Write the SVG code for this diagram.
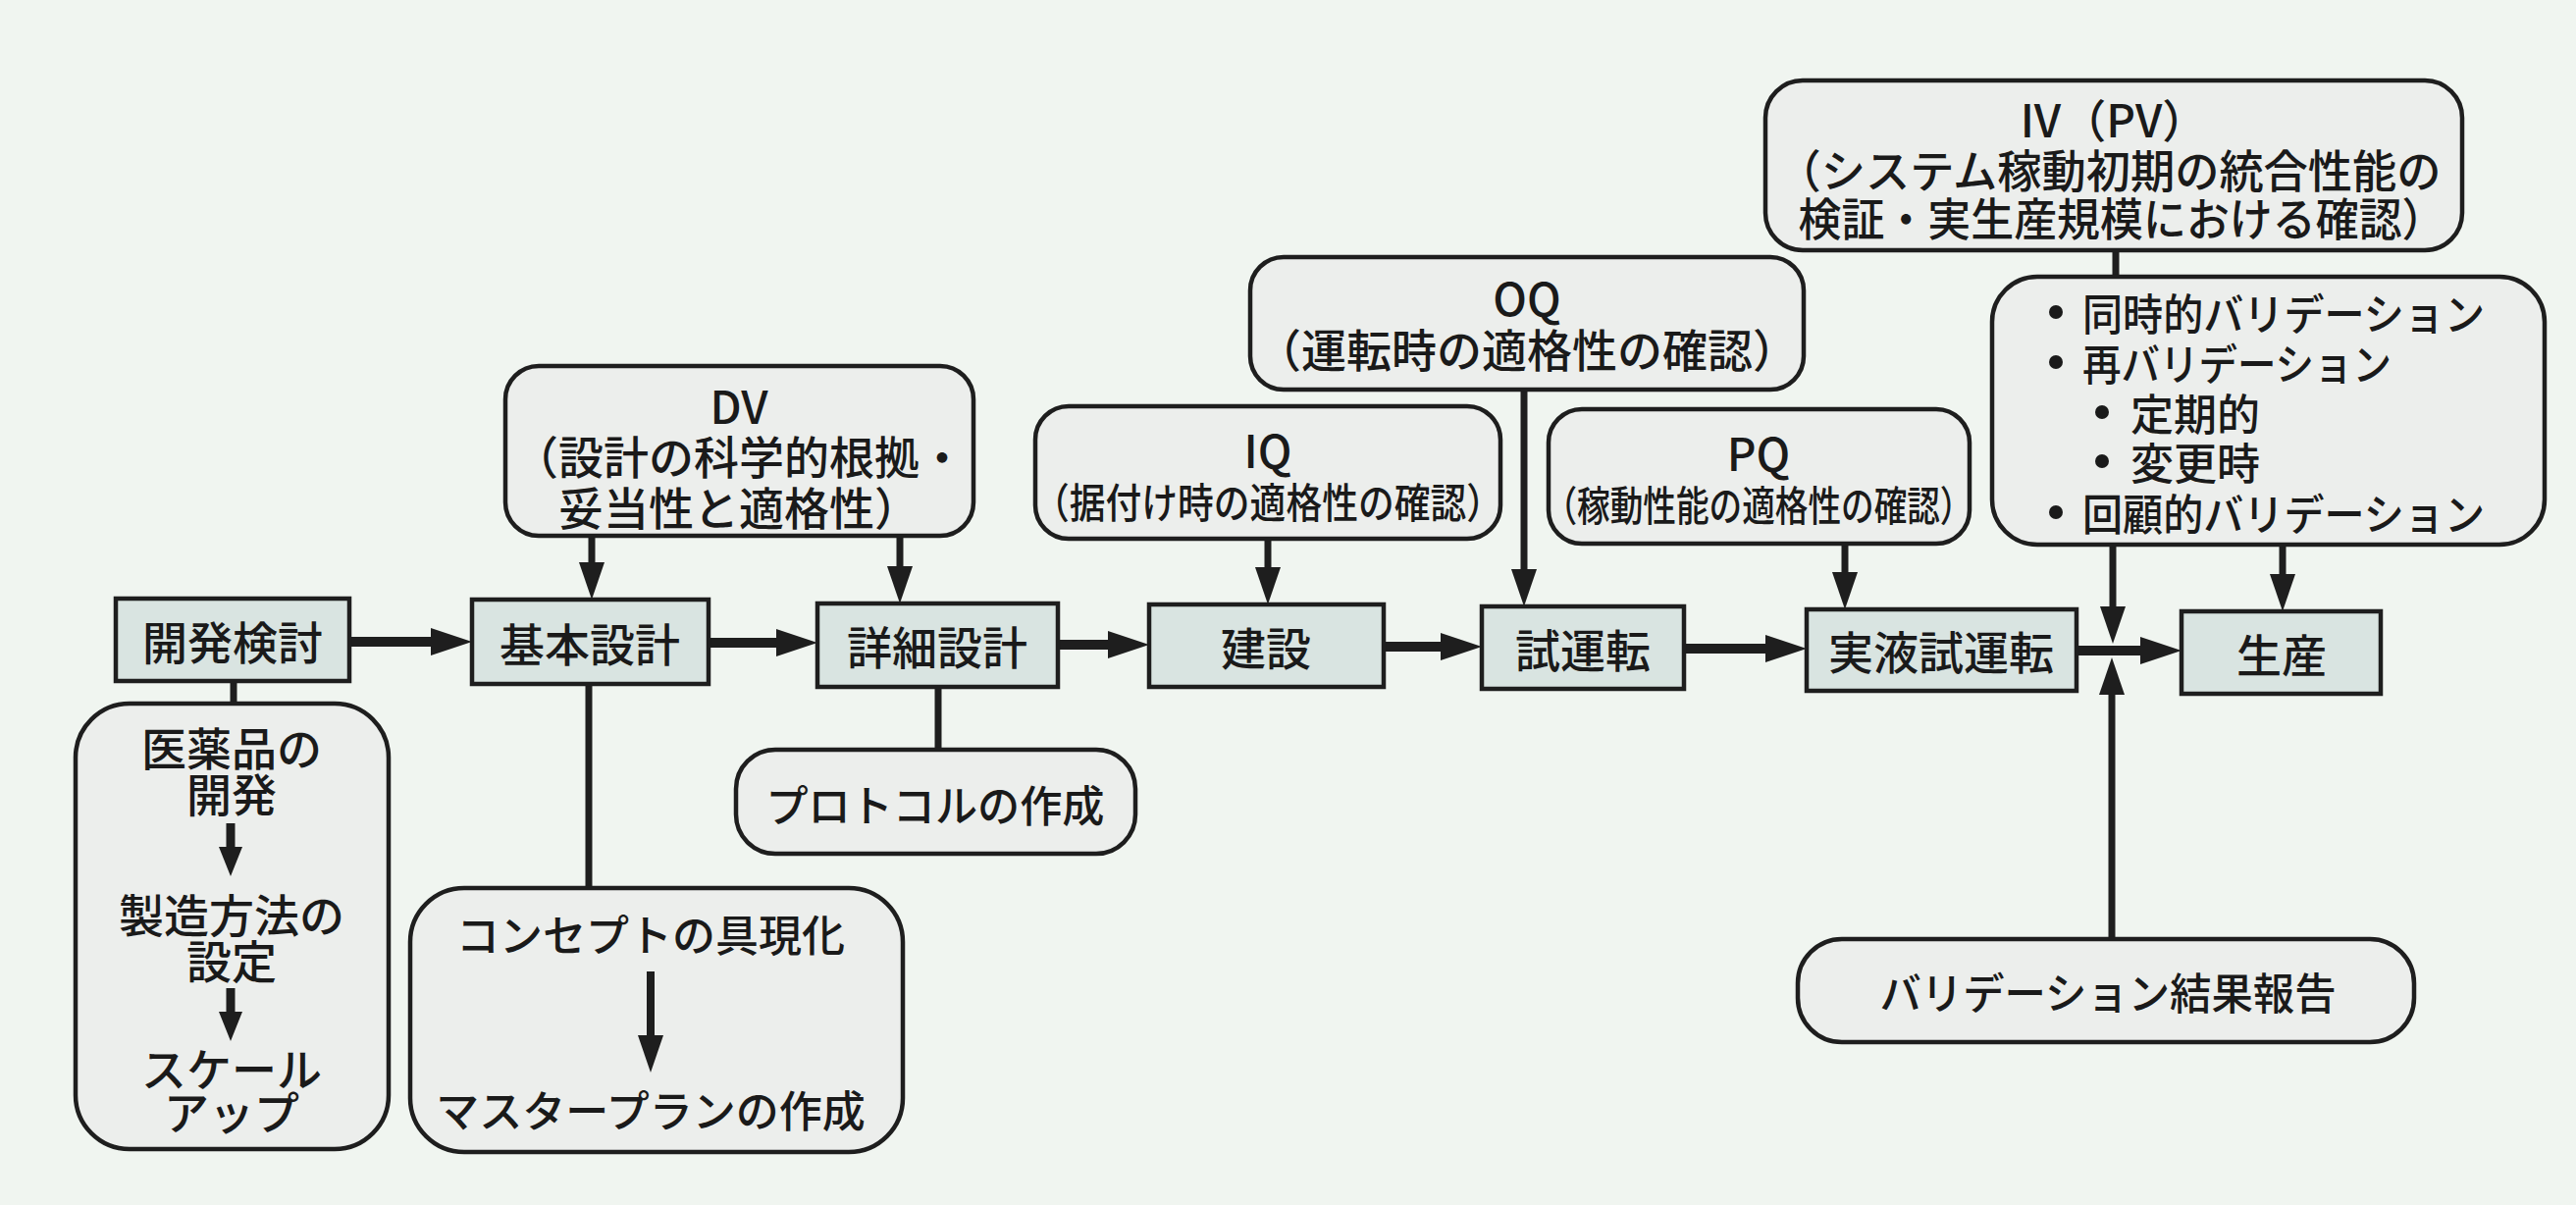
<svg xmlns="http://www.w3.org/2000/svg" width="2625" height="1228" viewBox="0 0 2625 1228">
<style>
.bg{fill:#f0f5f0}
.sq{fill:#d9e4e1;stroke:#1e1e1e;stroke-width:4.5}
.rd{fill:#eceeec;stroke:#1e1e1e;stroke-width:4.5}
.t{font-family:"Noto Sans CJK JP","Noto Sans",sans-serif;font-weight:500;fill:#1a1a1a;text-anchor:middle;dominant-baseline:central}
.tl{font-family:"Noto Sans CJK JP","Noto Sans",sans-serif;font-weight:500;fill:#1a1a1a;text-anchor:start;dominant-baseline:central}
.f46{font-size:46px}
.f44{font-size:44px}
.f42{font-size:42px}
.h{stroke:#1e1e1e;stroke-width:10;fill:none}
.v{stroke:#1e1e1e;stroke-width:7;fill:none}
.vs{stroke:#1e1e1e;stroke-width:9;fill:none}
.vc{stroke:#1e1e1e;stroke-width:8;fill:none}
.dot{fill:#1a1a1a}
</style>
<defs>
<marker id="ah" viewBox="0 0 42 28" markerWidth="42" markerHeight="28" refX="1" refY="14" orient="auto" markerUnits="userSpaceOnUse"><path d="M0,0 L42,14 L0,28 z" fill="#1e1e1e"/></marker>
<marker id="av" viewBox="0 0 38 26" markerWidth="38" markerHeight="26" refX="1" refY="13" orient="auto" markerUnits="userSpaceOnUse"><path d="M0,0 L38,13 L0,26 z" fill="#1e1e1e"/></marker>
<marker id="as" viewBox="0 0 30 24" markerWidth="30" markerHeight="24" refX="1" refY="12" orient="auto" markerUnits="userSpaceOnUse"><path d="M0,0 L30,12 L0,24 z" fill="#1e1e1e"/></marker>
</defs>
<rect class="bg" x="0" y="0" width="2625" height="1228"/>

<g id="connectors">
<line class="h" x1="356" y1="654" x2="440" y2="654" marker-end="url(#ah)"/>
<line class="h" x1="722" y1="655" x2="792" y2="655" marker-end="url(#ah)"/>
<line class="h" x1="1078" y1="657" x2="1130" y2="657" marker-end="url(#ah)"/>
<line class="h" x1="1410" y1="659" x2="1469" y2="659" marker-end="url(#ah)"/>
<line class="h" x1="1716" y1="661" x2="1800" y2="661" marker-end="url(#ah)"/>
<line class="h" x1="2116" y1="663" x2="2182" y2="663" marker-end="url(#ah)"/>
<line class="v" x1="603" y1="546" x2="603" y2="574" marker-end="url(#av)"/>
<line class="v" x1="917" y1="546" x2="917" y2="578" marker-end="url(#av)"/>
<line class="v" x1="1292" y1="549" x2="1292" y2="579" marker-end="url(#av)"/>
<line class="v" x1="1553" y1="397" x2="1553" y2="581" marker-end="url(#av)"/>
<line class="v" x1="1880" y1="554" x2="1880" y2="584" marker-end="url(#av)"/>
<line class="v" x1="2326" y1="555" x2="2326" y2="586" marker-end="url(#av)"/>
<line class="v" x1="2153" y1="555" x2="2153" y2="619" marker-end="url(#av)"/>
<line class="v" x1="2152" y1="957" x2="2152" y2="707" marker-end="url(#av)"/>
<line class="v" x1="238" y1="694" x2="238" y2="717"/>
<line class="v" x1="600" y1="697" x2="600" y2="905"/>
<line class="v" x1="956" y1="700" x2="956" y2="764"/>
<line class="v" x1="2156" y1="255" x2="2156" y2="282"/>
</g>

<g id="n_kaihatsu"><rect class="sq" x="118" y="610" width="238" height="84"/><text class="t f46" x="237" y="652">開発検討</text></g>
<g id="n_kihon"><rect class="sq" x="481" y="611" width="241" height="86"/><text class="t f46" x="601" y="654">基本設計</text></g>
<g id="n_shosai"><rect class="sq" x="833" y="615" width="245" height="85"/><text class="t f46" x="955" y="657">詳細設計</text></g>
<g id="n_kensetsu"><rect class="sq" x="1171" y="616" width="239" height="84"/><text class="t f46" x="1290" y="658">建設</text></g>
<g id="n_shiunten"><rect class="sq" x="1510" y="618" width="206" height="84"/><text class="t f46" x="1613" y="660">試運転</text></g>
<g id="n_jitsueki"><rect class="sq" x="1841" y="621" width="275" height="83"/><text class="t f46" x="1978" y="662">実液試運転</text></g>
<g id="n_seisan"><rect class="sq" x="2223" y="623" width="203" height="84"/><text class="t f46" x="2325" y="665">生産</text></g>

<g id="n_dv"><rect class="rd" x="515" y="373" width="477" height="173" rx="34"/>
<text class="t f46" x="753" y="412">DV<tspan x="753" y="463">（設計の科学的根拠・</tspan><tspan x="753" y="515">妥当性と適格性）</tspan></text></g>

<g id="n_iq"><rect class="rd" x="1055" y="414" width="474" height="135" rx="34"/>
<text class="t f46" x="1292" y="457">IQ<tspan class="f42" x="1292" y="509" textLength="478" lengthAdjust="spacingAndGlyphs">（据付け時の適格性の確認）</tspan></text></g>

<g id="n_oq"><rect class="rd" x="1274" y="262" width="564" height="135" rx="34"/>
<text class="t f46" x="1556" y="302">OQ<tspan x="1556" y="354">（運転時の適格性の確認）</tspan></text></g>

<g id="n_pq"><rect class="rd" x="1578" y="417" width="429" height="137" rx="34"/>
<text class="t f46" x="1792" y="460">PQ<tspan class="f42" x="1792" y="512" textLength="437" lengthAdjust="spacingAndGlyphs">（稼動性能の適格性の確認）</tspan></text></g>

<g id="n_iv"><rect class="rd" x="1799" y="82" width="710" height="173" rx="38"/>
<text class="t f46" x="2154" y="120">IV（PV）<tspan x="2149" y="171" textLength="677" lengthAdjust="spacingAndGlyphs">（システム稼動初期の統合性能の</tspan><tspan x="2162" y="220" textLength="659" lengthAdjust="spacingAndGlyphs">検証・実生産規模における確認）</tspan></text></g>

<g id="n_types"><rect class="rd" x="2030" y="282" width="563" height="273" rx="46"/>
<circle class="dot" cx="2095" cy="318" r="7"/>
<circle class="dot" cx="2095" cy="369" r="7"/>
<circle class="dot" cx="2142" cy="420" r="7"/>
<circle class="dot" cx="2142" cy="470" r="7"/>
<circle class="dot" cx="2095" cy="522" r="7"/>
<text class="tl f44" x="2122" y="318"><tspan textLength="410" lengthAdjust="spacingAndGlyphs">同時的バリデーション</tspan><tspan x="2122" y="369" textLength="315" lengthAdjust="spacingAndGlyphs">再バリデーション</tspan><tspan x="2171" y="420">定期的</tspan><tspan x="2171" y="470">変更時</tspan><tspan x="2122" y="522" textLength="410" lengthAdjust="spacingAndGlyphs">回顧的バリデーション</tspan></text></g>

<g id="n_dev"><rect class="rd" x="77" y="717" width="319" height="454" rx="55"/>
<text class="t f46" x="236" y="760">医薬品の<tspan x="236" y="807">開発</tspan><tspan x="236" y="930">製造方法の</tspan><tspan x="236" y="977">設定</tspan><tspan x="236" y="1087">スケール</tspan><tspan x="236" y="1131">アップ</tspan></text>
<line class="vs" x1="235" y1="839" x2="235" y2="864" marker-end="url(#as)"/>
<line class="vs" x1="235" y1="1007" x2="235" y2="1032" marker-end="url(#as)"/></g>

<g id="n_concept"><rect class="rd" x="418" y="905" width="502" height="269" rx="55"/>
<text class="t f44" x="663" y="951">コンセプトの具現化</text>
<line class="vc" x1="663" y1="990" x2="663" y2="1056" marker-end="url(#av)"/>
<text class="t f44" x="663" y="1130">マスタープランの作成</text></g>

<g id="n_protocol"><rect class="rd" x="750" y="764" width="407" height="106" rx="40"/>
<text class="t f44" x="953" y="819" textLength="345" lengthAdjust="spacingAndGlyphs">プロトコルの作成</text></g>

<g id="n_report"><rect class="rd" x="1832" y="957" width="628" height="105" rx="45"/>
<text class="t f44" x="2148" y="1010" textLength="465" lengthAdjust="spacingAndGlyphs">バリデーション結果報告</text></g>
</svg>
